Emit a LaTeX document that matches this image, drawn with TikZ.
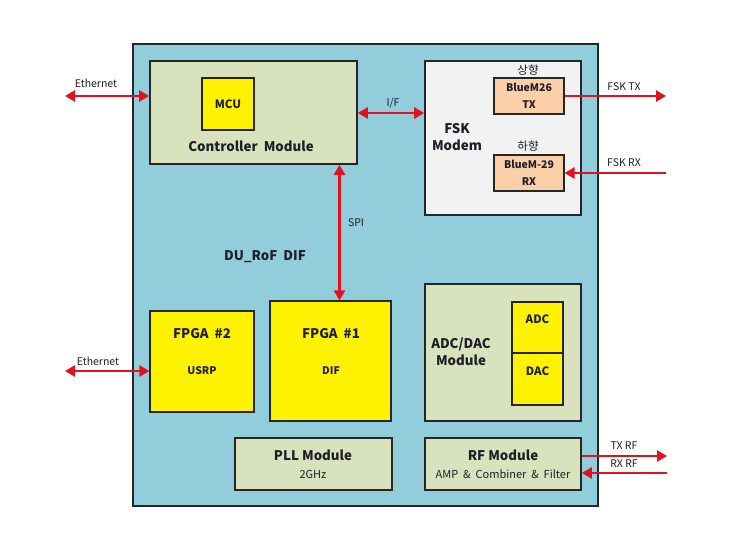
\documentclass[tikz,border=0pt]{standalone}
\usepackage{fontspec}
\setmainfont{Noto Sans CJK KR}
\usetikzlibrary{arrows.meta}
\definecolor{outerblue}{HTML}{92CDDC}
\definecolor{modgreen}{HTML}{D8E3BE}
\definecolor{fskgray}{HTML}{F2F2F2}
\definecolor{peach}{HTML}{FBCFA8}
\definecolor{arrred}{HTML}{E3101E}
\definecolor{txt}{HTML}{1E1E28}
\tikzset{
  box/.style={draw=black!85, line width=1.6pt, inner sep=0pt, text=txt},
  modbox/.style={box, fill=modgreen},
  ylbox/.style={box, fill=yellow, line width=1.1pt},
  pkbox/.style={box, fill=peach, line width=1.1pt},
  lbl/.style={text=txt, font=\fontsize{10.5}{12}\selectfont, inner sep=0pt},
  blbl/.style={text=txt, font=\fontsize{13.3}{17}\selectfont\bfseries, inner sep=0pt},
  sbold/.style={text=txt, font=\fontsize{10.5}{12}\selectfont\bfseries, inner sep=0pt},
  mbold/.style={text=txt, font=\fontsize{11.5}{13}\selectfont\bfseries, inner sep=0pt},
  tip/.style={Triangle[length=10pt,width=11pt]},
  conn/.style={draw=arrred, line width=2.3pt, -{Triangle[length=10pt,width=11pt]}},
  bconn/.style={draw=arrred, line width=2.3pt, {Triangle[length=10pt,width=11pt]}-{Triangle[length=10pt,width=11pt]}},
}
\begin{document}
\begin{tikzpicture}[x=1pt,y=-1pt]
\useasboundingbox (0,0) rectangle (743,533);
\fill[white] (0,0) rectangle (743,533);
% outer
\node[box, fill=outerblue, minimum width=465pt, minimum height=462pt] (outer) at (365.5,275) {};
% controller
\node[modbox, minimum width=207pt, minimum height=103pt] (ctrl) at (253.5,112.5) {};
\node[ylbox, minimum width=52pt, minimum height=52pt, mbold] (mcu) at (228,104) {MCU};
\node[blbl] (ctrllbl) at (251,146) {Controller\ \ Module};
% FSK modem
\node[box, fill=fskgray, minimum width=156pt, minimum height=154pt] (fsk) at (503,138) {};
\node[blbl, align=center] (fsklbl) at (457,137.5) {FSK\\Modem};
\node[pkbox, minimum width=70pt, minimum height=36pt, align=center, font=\fontsize{10.5}{17}\selectfont\bfseries] (txb) at (529,96) {BlueM26\\TX};
\node[pkbox, minimum width=70pt, minimum height=36pt, align=center, font=\fontsize{10.5}{17}\selectfont\bfseries] (rxb) at (529,173) {BlueM-29\\RX};
\node[lbl, font=\fontsize{11.5}{13}\selectfont] (up) at (528,70) {상향};
\node[lbl, font=\fontsize{11.5}{13}\selectfont] (down) at (528,146) {하향};
% FPGAs
\node[ylbox, minimum width=104pt, minimum height=101pt] (fpga2) at (202,361.5) {};
\node[blbl] (f2a) at (202,334) {FPGA\ \ \#2};
\node[sbold] (f2b) at (202,371) {USRP};
\node[ylbox, minimum width=121pt, minimum height=120pt] (fpga1) at (330.5,361) {};
\node[blbl] (f1a) at (331,334) {FPGA\ \ \#1};
\node[sbold] (f1b) at (331,371) {DIF};
% ADC/DAC
\node[modbox, minimum width=156pt, minimum height=137pt] (adda) at (503,352.5) {};
\node[blbl, align=center] (addalbl) at (461,351.5) {ADC/DAC\\Module};
\node[ylbox, minimum width=51pt, minimum height=51pt] (adc) at (537.5,327.5) {};
\node[ylbox, minimum width=51pt, minimum height=52pt] (dac) at (537.5,379) {};
\node[mbold] (adct) at (537.5,319) {ADC};
\node[mbold] (dact) at (537.5,371) {DAC};
% PLL, RF
\node[modbox, minimum width=157pt, minimum height=52pt] (pll) at (313.5,464) {};
\node[blbl] (pllt) at (313,455) {PLL Module};
\node[lbl, font=\fontsize{11}{12}\selectfont] (pllf) at (313,474) {2GHz};
\node[modbox, minimum width=156pt, minimum height=52pt] (rf) at (503,464) {};
\node[blbl] (rft) at (503,455) {RF Module};
\node[lbl, font=\fontsize{11}{12}\selectfont] (rff) at (503,474) {AMP\ \ \&\ \ Combiner\ \ \&\ \ Filter};
% DU_RoF label
\node[blbl] (du) at (265,257) {DU\_RoF\ \ DIF};
% external coordinates
\coordinate (eth1) at (65,96);
\coordinate (eth2) at (65,371);
\coordinate (fsktx) at (666,96);
\coordinate (fskrx) at (666,173);
\coordinate (txrf) at (667,456);
\coordinate (rxrf) at (667,473);
% connectors
\draw[bconn] (eth1) -- (ctrl.west |- eth1);
\node[lbl] (ethl1) at (96,83) {Ethernet};
\draw[bconn] (eth2) -- (fpga2.west |- eth2);
\node[lbl] (ethl2) at (98,361) {Ethernet};
\draw[bconn] (ctrl.east |- 0,113) -- (fsk.west |- 0,113);
\node[lbl] (ifl) at (393,103) {I/F};
\draw[bconn] (ctrl.south -| 339.5,0) -- (fpga1.north -| 339.5,0);
\node[lbl] (spil) at (356,223) {SPI};
\draw[conn] (txb.east |- fsktx) -- (fsktx);
\node[lbl] (fsktxl) at (624,87) {FSK TX};
\draw[conn] (fskrx) -- (rxb.east |- fskrx);
\node[lbl] (fskrxl) at (624,163) {FSK RX};
\draw[conn] (rf.east |- txrf) -- (txrf);
\node[lbl] (txrfl) at (624,446) {TX RF};
\draw[conn] (rxrf) -- (rf.east |- rxrf);
\node[lbl] (rxrfl) at (624,464) {RX RF};
\end{tikzpicture}
\end{document}
